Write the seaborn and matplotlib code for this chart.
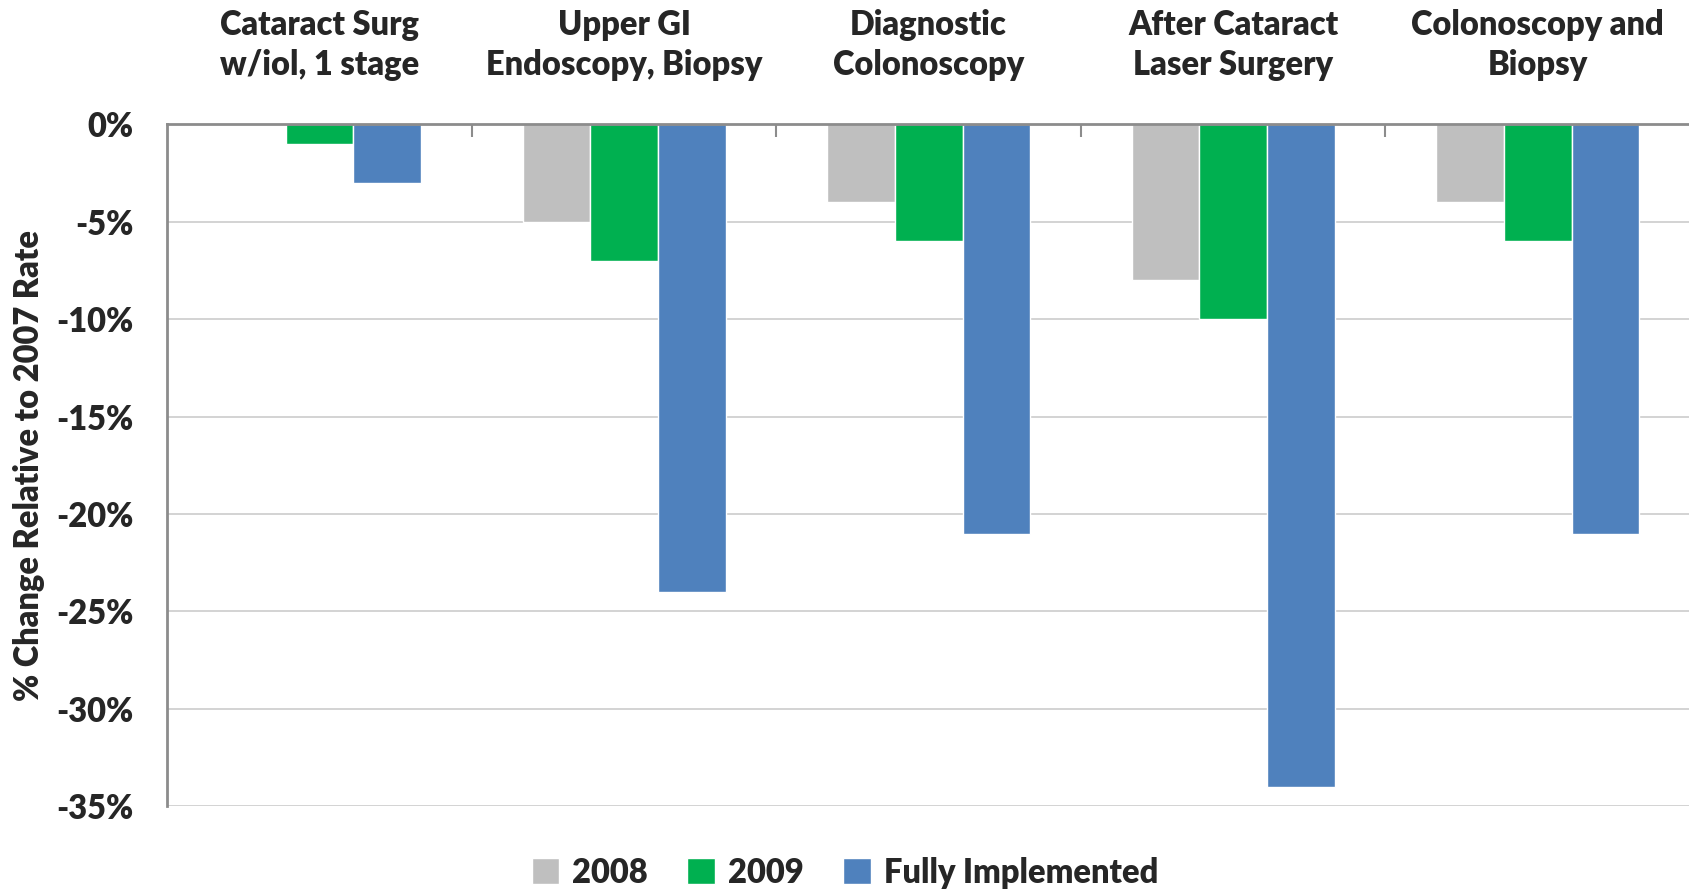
import matplotlib
matplotlib.use("Agg")
import matplotlib.pyplot as plt
import matplotlib.ticker as mticker
import pandas as pd
import numpy as np
import seaborn as sns

categories = ["Cataract Surg\nw/iol, 1 stage", "Upper GI\nEndoscopy, Biopsy", "Diagnostic\nColonoscopy",
              "After Cataract\nLaser Surgery", "Colonoscopy and\nBiopsy"]
series = ["2008", "2009", "Fully Implemented"]
vals_2008 = [0, -5, -4, -8, -4]
vals_2009 = [-1, -7, -6, -10, -6]
vals_full = [-3, -24, -21, -34, -21]
colors = ["#BFBFBF", "#00B050", "#4F81BD"]
yticks = [0, -5, -10, -15, -20, -25, -30, -35]

df = pd.DataFrame({
    "cat": categories * 3,
    "series": [s for s in series for _ in categories],
    "val": vals_2008 + vals_2009 + vals_full,
})

sns.set_style("white")
plt.rcParams["font.family"] = ["Lato", "DejaVu Sans"]
W = "heavy"
FS = 23.5

fig = plt.figure(figsize=(16.9, 8.94), dpi=100)
ax = fig.add_axes([0.099, 0.098, 0.901, 0.763])

sns.barplot(data=df, x="cat", y="val", hue="series", palette=colors, width=0.667,
            saturation=1, ax=ax, legend=True)

ax.set_ylim(-35, 0)
ax.set_xlim(-0.5, 4.5)
ax.set_yticks(yticks)
ax.yaxis.set_major_formatter(mticker.FuncFormatter(lambda v, p: f"{int(round(v))}%"))
ax.yaxis.grid(True, color="#D0D0D0", lw=1.3)
ax.set_axisbelow(True)

ax.xaxis.tick_top()
ax.set_xticks(range(len(categories)))
ax.set_xticklabels(categories, fontsize=FS, fontweight=W, linespacing=1.32)
ax.tick_params(axis="x", which="major", length=0, pad=31)
ax.set_xticks(np.arange(0.5, 4.5, 1), minor=True)
ax.tick_params(axis="x", which="minor", top=True, direction="in", length=9, width=1.5, color="#8C8C8C")
ax.tick_params(axis="y", labelsize=FS, length=12, width=1.3, color="#A6A6A6", pad=12)
for t in ax.get_yticklabels():
    t.set_fontweight(W)

ax.set_xlabel("")
ax.set_ylabel("% Change Relative to 2007 Rate", fontsize=FS, fontweight=W, labelpad=8)

for s in ["right", "bottom"]:
    ax.spines[s].set_visible(False)
ax.spines["top"].set_color("#8C8C8C")
ax.spines["top"].set_linewidth(2)
ax.spines["left"].set_color("#8C8C8C")
ax.spines["left"].set_linewidth(2)

h, l = ax.get_legend_handles_labels()
ax.get_legend().remove()
fig.legend(h, l, loc="center", bbox_to_anchor=(0.5, 0.024), ncol=3, frameon=False,
           handlelength=0.85, handleheight=0.85, handletextpad=0.4, columnspacing=1.2,
           prop={"weight": W, "size": FS, "family": ["Lato", "DejaVu Sans"]})

fig.savefig("out.png", dpi=100)
